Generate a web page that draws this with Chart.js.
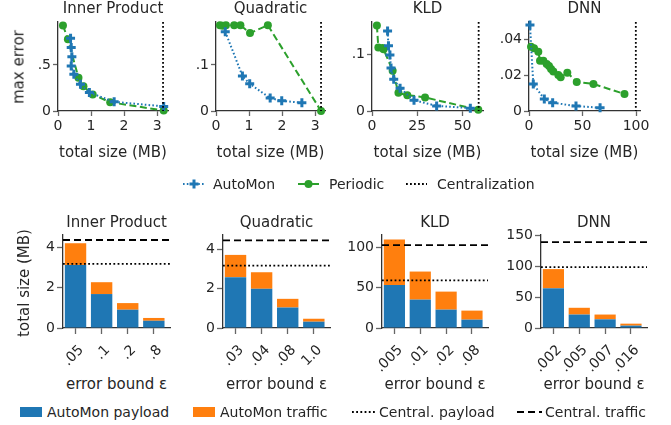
<!DOCTYPE html>
<html>
<head>
<meta charset="utf-8">
<script src="https://cdn.jsdelivr.net/npm/chart.js@4.4.1/dist/chart.umd.min.js"></script>
<style>
  body { margin: 0; background: #fff; }
  #fig { position: relative; width: 671px; height: 425px; overflow: hidden;
         font-family: 'DejaVu Sans', sans-serif; color: #262626; }
  #fig canvas { position: absolute; }
  .t { position: absolute; white-space: nowrap; line-height: 1; transform: translate(-50%, -50%); }
  .v { transform: translate(-50%, -50%) rotate(-90deg); }
  .lg { position: absolute; white-space: nowrap; line-height: 1; font-size: 14px; transform: translateY(-50%); }
  #fig svg { position: absolute; overflow: visible; }
</style>
</head>
<body>
<div id="fig"></div>
<script>
// ---- data ----

// top row: max error vs total size (MB)
const ipAutoX = [0.38, 0.40, 0.42, 0.40, 0.48, 0.68, 0.95, 1.70, 3.20];
const ipAutoY = [0.79, 0.69, 0.59, 0.49, 0.40, 0.29, 0.20, 0.10, 0.05];
const ipPerX = [0.15, 0.30, 0.62, 0.77, 1.05, 1.58, 3.20];
const ipPerY = [0.93, 0.78, 0.36, 0.27, 0.18, 0.095, 0.005];
const ipCentral = 3.18;

const quAutoX = [0.28, 0.80, 1.02, 1.64, 1.99, 2.60];
const quAutoY = [0.172, 0.076, 0.059, 0.028, 0.022, 0.018];
const quPerX = [0.12, 0.20, 0.30, 0.55, 0.74, 1.03, 1.57, 3.18];
const quPerY = [0.186, 0.185, 0.186, 0.186, 0.186, 0.169, 0.186, 0.0];
const quCentral = 3.18;

const klAutoX = [8.6, 9.1, 9.9, 10.5, 12.0, 15.5, 23.2, 35.7, 54.3];
const klAutoY = [0.141, 0.115, 0.099, 0.076, 0.056, 0.040, 0.019, 0.009, 0.005];
const klPerX = [2.7, 3.5, 5.8, 6.4, 11.4, 14.6, 19.5, 29.3, 58.7];
const klPerY = [0.151, 0.112, 0.111, 0.109, 0.071, 0.032, 0.028, 0.024, 0.002];
const klCentral = 58.9;

const dnAutoX = [0.9, 4.0, 14.3, 22.1, 43.9, 66.4];
const dnAutoY = [0.048, 0.0151, 0.0067, 0.0046, 0.0028, 0.0018];
const dnPerX = [1.9, 4.7, 8.7, 10.3, 13.4, 16.5, 18.7, 20.6, 22.7, 27.4, 29.6, 35.8, 44.6, 60.2, 89.2];
const dnPerY = [0.0359, 0.0350, 0.0331, 0.0281, 0.0281, 0.0262, 0.0251, 0.0235, 0.0220, 0.0201, 0.0188, 0.0214, 0.0162, 0.0151, 0.0095];
const dnCentral = 99.8;

const ipXTicks = [0, 1, 2, 3], ipYTicks = [0, 0.5];
const quXTicks = [0, 1, 2, 3], quYTicks = [0, 0.1];
const klXTicks = [0, 25, 50], klYTicks = [0, 0.1];
const dnXTicks = [0, 50, 100], dnYTicks = [0, 0.02, 0.04];

// bottom row: total size (MB) per error bound
const ipBounds = ['.05', '.1', '.2', '.8'];
const ipPayload = [3.14, 1.69, 0.91, 0.36];
const ipTraffic = [1.08, 0.59, 0.33, 0.14];
const ipCentralPayload = 3.19, ipCentralTraffic = 4.38;

const quBounds = ['.03', '.04', '.08', '1.0'];
const quPayload = [2.58, 1.99, 1.04, 0.32];
const quTraffic = [1.13, 0.84, 0.44, 0.15];
const quCentralPayload = 3.17, quCentralTraffic = 4.45;

const klBounds = ['.005', '.01', '.02', '.08'];
const klPayload = [53.3, 35.1, 22.7, 10.3];
const klTraffic = [56.2, 34.7, 22.3, 11.2];
const klCentralPayload = 59, klCentralTraffic = 102.5;

const dnBounds = ['.002', '.005', '.007', '.016'];
const dnPayload = [64, 21.7, 14, 3.8];
const dnTraffic = [31, 10.9, 7.7, 3.2];
const dnCentralPayload = 98.2, dnCentralTraffic = 138.4;

const ipSizeTicks = [0, 2, 4], quSizeTicks = [0, 2, 4];
const klSizeTicks = [0, 50, 100], dnSizeTicks = [0, 50, 100, 150];

// ---- styling ----
const BLUE = '#1f77b4', GREEN = '#2ca02c', ORANGE = '#ff7f0e', INK = '#262626';
const FONT = "'DejaVu Sans', sans-serif";
const fig = document.getElementById('fig');

// draws the Centralization reference lines through the chart's scales
const refLines = {
  id: 'refLines',
  afterDatasetsDraw(chart, args, opts) {
    const { ctx, chartArea: a, scales } = chart;
    (opts.lines || []).forEach(l => {
      ctx.save();
      ctx.strokeStyle = '#000';
      ctx.lineWidth = 1.8;
      ctx.setLineDash(l.dash);
      ctx.beginPath();
      if (l.axis === 'x') {
        const px = scales.x.getPixelForValue(l.value);
        ctx.moveTo(px, a.top); ctx.lineTo(px, a.bottom);
      } else {
        const py = scales.y.getPixelForValue(l.value);
        ctx.moveTo(a.left, py); ctx.lineTo(a.right, py);
      }
      ctx.stroke();
      ctx.restore();
    });
  }
};

function fmt(v) {
  if (v === 0) return '0';
  return String(+v.toFixed(4)).replace(/^0\./, '.');
}

function addText(txt, x, y, size, extra) {
  const d = document.createElement('div');
  d.className = 't' + (extra ? ' ' + extra : '');
  d.style.left = x + 'px';
  d.style.top = y + 'px';
  d.style.fontSize = size + 'px';
  d.textContent = txt;
  fig.appendChild(d);
}

function makeCanvas(left, top, w, h) {
  const c = document.createElement('canvas');
  c.width = w; c.height = h;
  c.style.left = left + 'px'; c.style.top = top + 'px';
  c.style.width = w + 'px'; c.style.height = h + 'px';
  fig.appendChild(c);
  return c;
}

function axis(tickLen, pad, fix) {
  return {
    border: { display: true, color: '#333', width: 1.3 },
    grid: { display: true, drawOnChartArea: false, drawTicks: true, tickLength: tickLen, tickColor: '#666', tickWidth: 1.3, offset: false },
    ticks: { color: INK, font: { family: FONT, size: 14 }, padding: pad, callback: v => fmt(v) },
    afterFit: fix
  };
}

const Y_W = 50, PAD_T = 12, PAD_R = 12;

// ---- top row ----
const topPlots = [
  { title: 'Inner Product', left: 58, w: 110, ax: ipAutoX, ay: ipAutoY, px: ipPerX, py: ipPerY, cx: ipCentral, xMax: 3.33, yMax: 0.967, xt: ipXTicks, yt: ipYTicks },
  { title: 'Quadratic', left: 216, w: 109, ax: quAutoX, ay: quAutoY, px: quPerX, py: quPerY, cx: quCentral, xMax: 3.30, yMax: 0.193, xt: quXTicks, yt: quYTicks },
  { title: 'KLD', left: 372, w: 111, ax: klAutoX, ay: klAutoY, px: klPerX, py: klPerY, cx: klCentral, xMax: 61.3, yMax: 0.157, xt: klXTicks, yt: klYTicks },
  { title: 'DNN', left: 529, w: 111, ax: dnAutoX, ay: dnAutoY, px: dnPerX, py: dnPerY, cx: dnCentral, xMax: 103.7, yMax: 0.0497, xt: dnXTicks, yt: dnYTicks }
];
const TOP_Y = 22, TOP_H = 89, TOP_XH = 32;

topPlots.forEach(p => {
  const c = makeCanvas(p.left - Y_W, TOP_Y - PAD_T, Y_W + p.w + PAD_R, PAD_T + TOP_H + TOP_XH);
  const xs = axis(5, 2, s => { s.height = TOP_XH; });
  Object.assign(xs, { type: 'linear', min: 0, max: p.xMax, afterBuildTicks: s => { s.ticks = p.xt.map(v => ({ value: v })); } });
  const ys = axis(5, 2, s => { s.width = Y_W; });
  Object.assign(ys, { type: 'linear', min: 0, max: p.yMax, afterBuildTicks: s => { s.ticks = p.yt.map(v => ({ value: v })); } });
  new Chart(c, {
    type: 'line',
    data: {
      datasets: [
        {
          label: 'AutoMon',
          data: p.ax.map((x, i) => ({ x, y: p.ay[i] })),
          borderColor: BLUE, backgroundColor: BLUE, borderWidth: 2, borderDash: [1.6, 2.2],
          pointStyle: 'cross', pointRadius: 4.5, pointBorderWidth: 3, pointBorderColor: BLUE,
          clip: false, tension: 0
        },
        {
          label: 'Periodic',
          data: p.px.map((x, i) => ({ x, y: p.py[i] })),
          borderColor: GREEN, backgroundColor: GREEN, borderWidth: 2, borderDash: [7, 3.5],
          pointStyle: 'circle', pointRadius: 4, pointBorderWidth: 0, pointBackgroundColor: GREEN,
          clip: false, tension: 0
        }
      ]
    },
    options: {
      responsive: false, animation: false, devicePixelRatio: 1,
      layout: { padding: { top: PAD_T, right: PAD_R, left: 0, bottom: 0 } },
      plugins: {
        legend: { display: false }, tooltip: { enabled: false }, title: { display: false },
        refLines: { lines: [{ axis: 'x', value: p.cx, dash: [1.8, 2.2] }] }
      },
      scales: { x: xs, y: ys }
    },
    plugins: [refLines]
  });
  addText(p.title, p.left + p.w / 2, 8, 15);
  addText('total size (MB)', p.left + p.w / 2, 152, 15);
});
addText('max error', 18.5, 67, 15, 'v');

// ---- bottom row ----
const botPlots = [
  { title: 'Inner Product', left: 63, w: 107, cats: ipBounds, pay: ipPayload, tra: ipTraffic, cp: ipCentralPayload, ct: ipCentralTraffic, yMax: 4.63, yt: ipSizeTicks },
  { title: 'Quadratic', left: 223, w: 107, cats: quBounds, pay: quPayload, tra: quTraffic, cp: quCentralPayload, ct: quCentralTraffic, yMax: 4.72, yt: quSizeTicks },
  { title: 'KLD', left: 382, w: 106, cats: klBounds, pay: klPayload, tra: klTraffic, cp: klCentralPayload, ct: klCentralTraffic, yMax: 115, yt: klSizeTicks },
  { title: 'DNN', left: 541, w: 106, cats: dnBounds, pay: dnPayload, tra: dnTraffic, cp: dnCentralPayload, ct: dnCentralTraffic, yMax: 150, yt: dnSizeTicks }
];
const BOT_Y = 235, BOT_H = 93, BOT_XH = 45;

botPlots.forEach(p => {
  const c = makeCanvas(p.left - Y_W, BOT_Y - PAD_T, Y_W + p.w + PAD_R, PAD_T + BOT_H + BOT_XH);
  const xs = axis(6, 8, s => { s.height = BOT_XH; });
  Object.assign(xs, {
    type: 'linear', min: -0.48, max: 3.62, offset: false,
    afterBuildTicks: s => { s.ticks = p.cats.map((_, i) => ({ value: i })); }
  });
  xs.ticks = Object.assign({}, xs.ticks, {
    minRotation: 45, maxRotation: 45, autoSkip: false, labelOffset: 6,
    callback: v => p.cats[v]
  });
  const ys = axis(6, 2, s => { s.width = Y_W; });
  Object.assign(ys, {
    type: 'linear', min: 0, max: p.yMax, stacked: true,
    afterBuildTicks: s => { s.ticks = p.yt.map(v => ({ value: v })); }
  });
  new Chart(c, {
    type: 'bar',
    data: {
      datasets: [
        { label: 'AutoMon payload', data: p.pay.map((v, i) => ({ x: i, y: v })), backgroundColor: BLUE, stack: 's', barPercentage: 0.82, categoryPercentage: 1 },
        { label: 'AutoMon traffic', data: p.tra.map((v, i) => ({ x: i, y: v })), backgroundColor: ORANGE, stack: 's', barPercentage: 0.82, categoryPercentage: 1 }
      ]
    },
    options: {
      responsive: false, animation: false, devicePixelRatio: 1,
      layout: { padding: { top: PAD_T, right: PAD_R, left: 0, bottom: 0 } },
      plugins: {
        legend: { display: false }, tooltip: { enabled: false }, title: { display: false },
        refLines: { lines: [
          { axis: 'y', value: p.cp, dash: [1.8, 2.4] },
          { axis: 'y', value: p.ct, dash: [7, 4] }
        ] }
      },
      scales: { x: xs, y: ys }
    },
    plugins: [refLines]
  });
  addText(p.title, p.left + p.w / 2, 222, 15);
  addText('error bound ε', p.left + p.w / 2, 384, 15);
});
addText('total size (MB)', 24, 283, 15, 'v');

// ---- legends ----
function handle(x, y, w, h, inner) {
  const s = document.createElementNS('http://www.w3.org/2000/svg', 'svg');
  s.setAttribute('width', w); s.setAttribute('height', h);
  s.style.left = x + 'px'; s.style.top = (y - h / 2) + 'px';
  s.innerHTML = inner;
  fig.appendChild(s);
}
function legText(txt, x, y) {
  const d = document.createElement('div');
  d.className = 'lg';
  d.style.left = x + 'px'; d.style.top = y + 'px';
  d.textContent = txt;
  fig.appendChild(d);
}

const LY1 = 183.5;
handle(183, LY1, 22, 12,
  `<line x1="0" y1="6" x2="22" y2="6" stroke="${BLUE}" stroke-width="2" stroke-dasharray="1.6 2.2"/>` +
  `<line x1="6.5" y1="6" x2="15.5" y2="6" stroke="${BLUE}" stroke-width="3"/>` +
  `<line x1="11" y1="1.5" x2="11" y2="10.5" stroke="${BLUE}" stroke-width="3"/>`);
legText('AutoMon', 213, LY1);
handle(298, LY1, 21, 12,
  `<line x1="0" y1="6" x2="21" y2="6" stroke="${GREEN}" stroke-width="2"/>` +
  `<circle cx="10.5" cy="6" r="4" fill="${GREEN}"/>`);
legText('Periodic', 329, LY1);
handle(406, LY1, 21, 12,
  `<line x1="0" y1="6" x2="21" y2="6" stroke="#000" stroke-width="1.8" stroke-dasharray="1.8 2.2"/>`);
legText('Centralization', 437, LY1);

const LY2 = 412;
handle(20, LY2, 22, 10, `<rect x="0" y="0" width="22" height="10" fill="${BLUE}"/>`);
legText('AutoMon payload', 47, LY2);
handle(193, LY2, 22, 10, `<rect x="0" y="0" width="22" height="10" fill="${ORANGE}"/>`);
legText('AutoMon traffic', 220, LY2);
handle(352, LY2, 23, 10,
  `<line x1="0" y1="5" x2="23" y2="5" stroke="#000" stroke-width="1.8" stroke-dasharray="1.8 2.4"/>`);
legText('Central. payload', 379, LY2);
handle(517, LY2, 25, 10,
  `<line x1="0" y1="5" x2="25" y2="5" stroke="#000" stroke-width="1.8" stroke-dasharray="7 4"/>`);
legText('Central. traffic', 545, LY2);
</script>
</body>
</html>
